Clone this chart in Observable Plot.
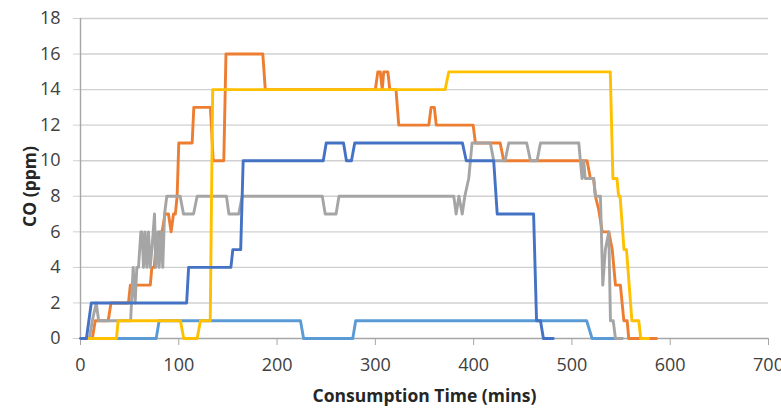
<!DOCTYPE html>
<html>
<head>
<meta charset="utf-8">
<script src="https://cdn.jsdelivr.net/npm/d3@7"></script>
<script src="https://cdn.jsdelivr.net/npm/@observablehq/plot@0.6"></script>
<style>
  html, body { margin: 0; padding: 0; background: #fff; }
</style>
</head>
<body>
<div id="chart"></div>
<script>
// ---- data ----
const xTicks = [0, 100, 200, 300, 400, 500, 600, 700];
const yTicks = [0, 2, 4, 6, 8, 10, 12, 14, 16, 18];
const xTitle = "Consumption Time (mins)";
const yTitle = "CO (ppm)";

// light blue series
const lightBlueT = [8, 77, 80, 223.8, 227, 277, 280, 515, 520.5, 551];
const lightBlueCO = [0, 0, 1, 1, 0, 0, 1, 1, 0, 0];

// orange series
const orangeT = [5, 12, 15, 28.2, 31, 48.8, 50.7, 71, 72.6, 75, 76.5, 79, 80, 83, 86, 89.5, 92.2, 94.6, 96.5, 98.3, 100,
  113.6, 115.3, 132.2, 135, 145.8, 148, 185.5, 188, 300, 302.5, 305, 307, 308.5, 312.7, 314.7, 321, 323.8,
  354.4, 356.7, 360, 362, 399.5, 401.8, 427, 430.6, 515.4, 518.8, 522, 523.9, 527.4, 530.8, 537.5, 541, 544.3,
  549.3, 552.8, 556.2, 557.8, 586];
const orangeCO = [0, 0, 1, 1, 2, 2, 3, 3, 4, 4, 5, 5, 6, 6, 7, 7, 6, 7, 7, 8, 11,
  11, 13, 13, 10, 10, 16, 16, 14, 14, 15, 15, 14, 15, 15, 14, 14, 12,
  12, 13, 13, 12, 12, 11, 11, 10, 10, 9, 9, 8, 7.2, 6, 6, 5, 3,
  3, 1, 1, 0, 0];

// gray series
const grayT = [9, 12, 16, 18.5, 51, 53.6, 55.6, 57.3, 59, 61.4, 62.6, 64.1, 65.8, 67.5, 69.2, 70.9, 72.6, 75.3, 76.6,
  78.6, 80, 82.1, 83.7, 85.5, 87.8, 101.4, 104.8, 115, 118.7, 148.5, 151, 161, 164.5, 246, 249, 260, 263,
  379.8, 382.2, 385, 388.4, 391, 395, 398.4, 417, 420.4, 432, 435.7, 454, 457.8, 464.5, 468, 507, 508.6,
  510.3, 512, 513.5, 522.2, 524, 529, 531.4, 534, 537.5, 539.2, 542, 544.3, 551];
const grayCO = [0, 1, 2, 1, 1, 4, 2, 4, 4, 6, 6, 4, 6, 4, 6, 4, 5, 7, 4,
  6, 4, 6, 4, 7, 8, 8, 7, 7, 8, 8, 7, 7, 8, 8, 7, 7, 8,
  8, 7, 8, 7, 8, 9, 11, 11, 10, 10, 11, 11, 10, 10, 11, 11, 10,
  9, 10, 9, 9, 8, 8, 3, 5, 6, 1, 1, 0, 0];

// yellow series
const yellowT = [8, 36.6, 38.3, 101.7, 105, 118.7, 122, 132, 134.5, 371, 374.7, 539, 541.7, 545.8, 547.5, 549,
  553, 555.5, 561, 568, 570, 578];
const yellowCO = [0, 0, 1, 1, 0, 0, 1, 1, 14, 14, 15, 15, 9, 9, 8, 8,
  5, 5, 1, 1, 0, 0];

// dark blue series
const blueT = [0, 6, 11, 108, 110, 153, 155, 163, 165.5, 247, 250, 267.6, 270.6, 275.7, 279, 388.6, 392.5,
  420.4, 424, 461, 464, 468, 471, 481];
const blueCO = [0, 0, 2, 2, 4, 4, 5, 5, 10, 10, 11, 11, 10, 10, 11, 11, 10,
  10, 7, 7, 1, 1, 0, 0];

const seriesList = [
  {t: lightBlueT, v: lightBlueCO, color: "#5B9BD5"},
  {t: orangeT, v: orangeCO, color: "#ED7D31"},
  {t: grayT, v: grayCO, color: "#A5A5A5"},
  {t: yellowT, v: yellowCO, color: "#FFC000"},
  {t: blueT, v: blueCO, color: "#4472C4"}
];

const gridColor = "#D0D0D0";
const axisColor = "#A6A6A6";
const textColor = "#404040";

const lineMarks = seriesList.map(s =>
  Plot.line(d3.range(s.t.length), {
    x: i => s.t[i], y: i => s.v[i],
    stroke: s.color, strokeWidth: 2.9, strokeLinejoin: "round", strokeLinecap: "round"
  })
);

const chart = Plot.plot({
  width: 781,
  height: 409,
  marginLeft: 80,
  marginRight: 13,
  marginTop: 18,
  marginBottom: 71,
  style: {fontFamily: "'Open Sans', sans-serif", fontSize: "18px", color: textColor, background: "#fff"},
  x: {domain: [0, 700]},
  y: {domain: [0, 18]},
  marks: [
    Plot.ruleY(yTicks.filter(d => d > 0), {stroke: gridColor, strokeWidth: 1.4}),
    Plot.axisY({ticks: yTicks, tickSize: 7, tickPadding: 13, stroke: gridColor, fill: textColor, label: null, tickFormat: d => String(d)}),
    Plot.axisX({ticks: xTicks, tickSize: 7, tickPadding: 13, stroke: axisColor, fill: textColor, label: null, tickFormat: d => String(d)}),
    Plot.ruleX([0], {y1: 0, y2: 18, stroke: axisColor, strokeWidth: 1.4}),
    Plot.ruleY([0], {stroke: axisColor, strokeWidth: 1.4}),
    ...lineMarks,
    Plot.text([xTitle], {frameAnchor: "bottom", textAnchor: "middle", dy: 63, fontWeight: "bold", fontSize: 17.5, fill: "#262626"}),
    Plot.text([yTitle], {frameAnchor: "left", textAnchor: "middle", dx: -50, dy: 8, rotate: -90, fontWeight: "bold", fontSize: 17.5, fill: "#262626"})
  ]
});
document.getElementById("chart").appendChild(chart);
</script>
</body>
</html>
